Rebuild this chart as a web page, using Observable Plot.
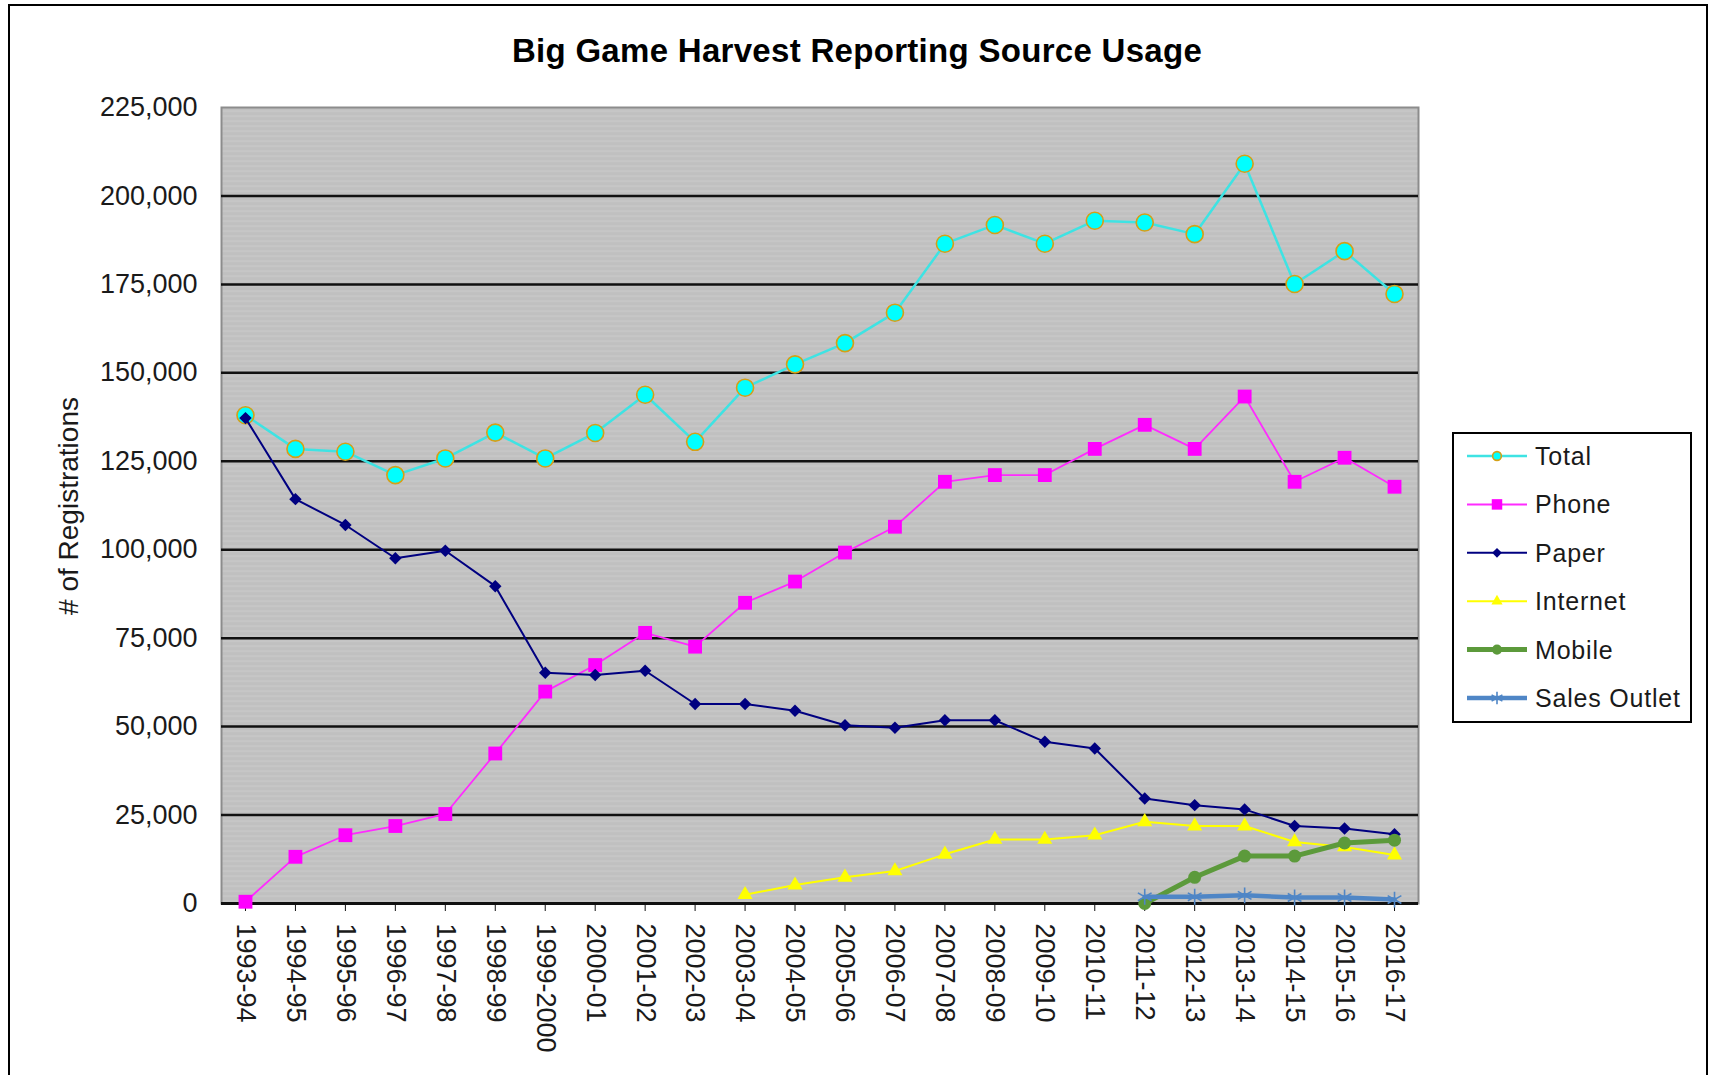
<!DOCTYPE html>
<html>
<head>
<meta charset="utf-8">
<script src="https://cdn.jsdelivr.net/npm/d3@7"></script>
<script src="https://cdn.jsdelivr.net/npm/@observablehq/plot@0.6"></script>
<style>
  html, body { margin: 0; padding: 0; background: #fff; overflow: hidden; }
  #wrap { position: relative; width: 1713px; height: 1075px; overflow: hidden; font-family: "Liberation Sans", Arial, sans-serif; }
  #border { position: absolute; left: 8px; top: 4px; width: 1700px; height: 1200px; border: 2.5px solid #000; box-sizing: border-box; }
  #chart { position: absolute; left: 0; top: 0; }
  #overlay { position: absolute; left: 0; top: 0; }
</style>
</head>
<body>
<div id="wrap">
  <div id="border"></div>
  <div id="chart"></div>
  <svg id="overlay" width="1713" height="1075"></svg>
</div>
<script>
const categories = ["1993-94","1994-95","1995-96","1996-97","1997-98","1998-99","1999-2000","2000-01","2001-02","2002-03","2003-04","2004-05","2005-06","2006-07","2007-08","2008-09","2009-10","2010-11","2011-12","2012-13","2013-14","2014-15","2015-16","2016-17"];
const total    = [138000,128500,127700,121100,125800,133100,125800,133000,143800,130500,145800,152400,158400,167000,186500,191800,186500,193000,192500,189200,209100,175100,184400,172300];
const phone    = [500,13200,19300,21900,25300,42400,59900,67400,76500,72600,85000,91000,99200,106500,119200,121100,121100,128500,135300,128500,143300,119200,126000,117800];
const paper    = [137200,114300,107000,97600,99700,89700,65200,64600,65800,56400,56400,54500,50400,49700,51800,51800,45700,43800,29700,27800,26600,21900,21200,19600];
const internet = [null,null,null,null,null,null,null,null,null,null,2500,5200,7400,9200,13900,18100,18100,19300,23100,21900,21900,17400,16000,13700];
const mobile   = [null,null,null,null,null,null,null,null,null,null,null,null,null,null,null,null,null,null,0,7400,13400,13400,17100,17900];
const sales    = [null,null,null,null,null,null,null,null,null,null,null,null,null,null,null,null,null,null,1900,1900,2300,1700,1700,1100];
const seriesNames = ["Total","Phone","Paper","Internet","Mobile","Sales Outlet"];
const yTicks = [0,25000,50000,75000,100000,125000,150000,175000,200000,225000];
const gridTicks = [25000,50000,75000,100000,125000,150000,175000,200000];

const FONT = '"Liberation Sans", Arial, sans-serif';

const styles = {
  "Total":        {line:"#3ee3e3", lw:2.5, symbol:"circle",   r:8.5, fill:"#00ffff", stroke:"#d4a017", sw:1.6, ls:d3.symbolCircle, lsize:60},
  "Phone":        {line:"#ff2bff", lw:1.8, symbol:"square",   r:7.8, fill:"#ff00ff", stroke:"none",    sw:0,   ls:d3.symbolSquare, lsize:110},
  "Paper":        {line:"#000080", lw:2.0, symbol:"diamond2", r:5.6, fill:"#000080", stroke:"none",    sw:0,   ls:d3.symbolDiamond2, lsize:60},
  "Internet":     {line:"#ffff00", lw:2.0, symbol:"triangle2",r:7.2, fill:"#ffff00", stroke:"none",    sw:0,   ls:d3.symbolTriangle2, lsize:90},
  "Mobile":       {line:"#5c9a3b", lw:5.0, symbol:"circle",   r:6.5, fill:"#5c9a3b", stroke:"none",    sw:0,   ls:d3.symbolCircle, lsize:80},
  "Sales Outlet": {line:"#4f86c6", lw:4.5, symbol:"asterisk", r:7.5, fill:"none",    stroke:"#4f86c6", sw:1.6, ls:d3.symbolAsterisk, lsize:110}
};

const valuesBy = {"Total":total,"Phone":phone,"Paper":paper,"Internet":internet,"Mobile":mobile,"Sales Outlet":sales};
const rows = [];
for (const s of seriesNames) {
  valuesBy[s].forEach((v,i) => { if (v !== null) rows.push({series:s, cat:categories[i], value:v}); });
}

const seriesMarks = [];
for (const s of seriesNames) {
  const st = styles[s];
  const data = rows.filter(d => d.series === s);
  seriesMarks.push(Plot.line(data, {x:"cat", y:"value", stroke:st.line, strokeWidth:st.lw}));
  seriesMarks.push(Plot.dot(data, {x:"cat", y:"value", symbol:st.symbol, r:st.r, fill:st.fill, stroke:st.stroke, strokeWidth:st.sw}));
}

const chart = Plot.plot({
  width: 1713,
  height: 1075,
  marginLeft: 221,
  marginRight: 295,
  marginTop: 107,
  marginBottom: 172,
  style: {fontFamily: FONT, background: "transparent", color: "#1a1a1a", overflow: "visible"},
  x: {type: "point", domain: categories, padding: 0.48, round: false},
  y: {domain: [0, 225000]},
  marks: [
    Plot.frame({fill: "#c0c0c0"}),
    Plot.frame({fill: "#c0c0c0"}),
    Plot.frame({stroke: "#8c8c8c", strokeWidth: 2}),
    Plot.ruleY(gridTicks, {stroke: "#111", strokeWidth: 2.5}),
    Plot.ruleY([0], {stroke: "#111", strokeWidth: 3}),
    Plot.axisY({ticks: yTicks, tickFormat: d3.format(","), tickSize: 0, tickPadding: 24, fontSize: 27, label: null}),
    Plot.axisX({tickRotate: 90, tickSize: 8, tickPadding: 12, fontSize: 27, label: null, stroke: "#111"}),
    ...seriesMarks
  ]
});
document.getElementById("chart").appendChild(chart);

// subtle horizontal stripe texture in plot background
(function() {
  const svg = chart.tagName.toLowerCase() === "svg" ? chart : chart.querySelector("svg");
  const ns = "http://www.w3.org/2000/svg";
  const defs = document.createElementNS(ns, "defs");
  defs.innerHTML = '<pattern id="stripes" patternUnits="userSpaceOnUse" width="10" height="5"><rect width="10" height="5" fill="#c0c0c0"/><rect width="10" height="1.2" fill="#cacaca"/></pattern>';
  svg.insertBefore(defs, svg.firstChild);
  const frames = svg.querySelectorAll('[aria-label="frame"]');
  if (frames.length > 1) {
    const el = frames[1];
    const rect = el.tagName.toLowerCase() === "rect" ? el : el.querySelector("rect");
    if (rect) rect.setAttribute("fill", "url(#stripes)");
  }
})();

// overlay: title, y-axis title, legend
const ov = d3.select("#overlay");
ov.append("text")
  .attr("x", 857).attr("y", 62)
  .attr("text-anchor", "middle")
  .attr("font-family", FONT).attr("font-weight", "bold").attr("font-size", 33)
  .attr("letter-spacing", 0.3)
  .attr("fill", "#000")
  .text("Big Game Harvest Reporting Source Usage");

ov.append("text")
  .attr("transform", "translate(68,506) rotate(-90)")
  .attr("text-anchor", "middle").attr("dominant-baseline", "central")
  .attr("font-family", FONT).attr("font-size", 28)
  .attr("fill", "#1a1a1a")
  .text("# of Registrations");

const lg = ov.append("g");
lg.append("rect").attr("x", 1453).attr("y", 433).attr("width", 238).attr("height", 289)
  .attr("fill", "#fff").attr("stroke", "#000").attr("stroke-width", 2);
seriesNames.forEach((s, i) => {
  const st = styles[s];
  const y = 456 + i * 48.4;
  lg.append("line").attr("x1", 1467).attr("x2", 1527).attr("y1", y).attr("y2", y)
    .attr("stroke", st.line).attr("stroke-width", Math.max(st.lw, 2));
  lg.append("path").attr("transform", `translate(1497,${y})`)
    .attr("d", d3.symbol().type(st.ls).size(st.lsize)())
    .attr("fill", st.fill).attr("stroke", st.stroke === "none" ? null : st.stroke)
    .attr("stroke-width", st.sw || null);
  lg.append("text").attr("x", 1535).attr("y", y + 9)
    .attr("font-family", FONT).attr("font-size", 25).attr("letter-spacing", 0.8)
    .attr("fill", "#1a1a1a").text(s);
});
</script>
</body>
</html>
